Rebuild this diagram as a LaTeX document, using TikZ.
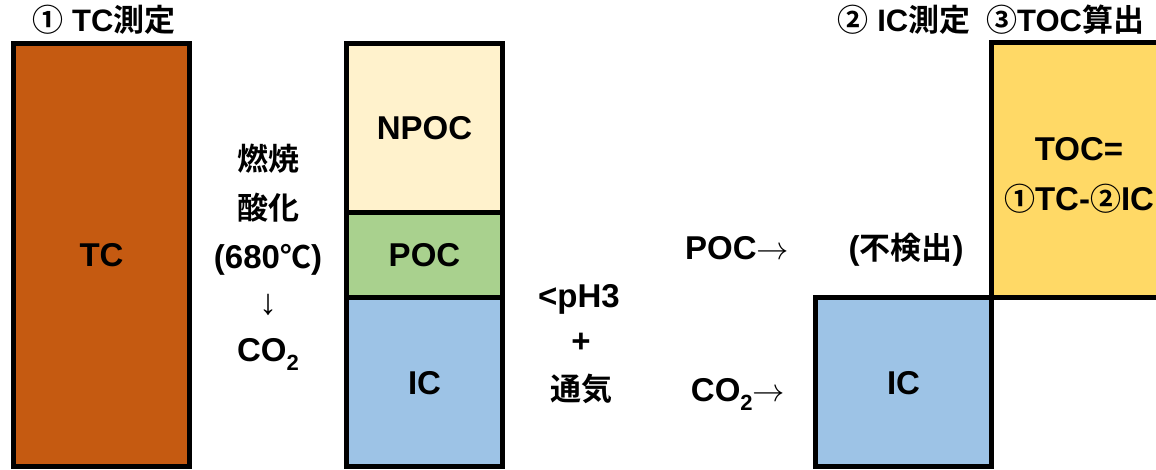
\documentclass[tikz,border=0pt]{standalone}
\usepackage{graphicx}
\usepackage{fontspec}
\setmainfont{Liberation Sans}
\newfontfamily\jp{Noto Sans CJK JP Bold}[BoldFont={Noto Sans CJK JP Bold}]
\definecolor{tcorange}{HTML}{C55A11}
\definecolor{npocfill}{HTML}{FFF2CC}
\definecolor{pocfill}{HTML}{A9D18E}
\definecolor{icfill}{HTML}{9DC3E6}
\definecolor{tocfill}{HTML}{FFD966}
% CJK text inside the larger labels keeps its own size
\newcommand{\jps}{\jp\fontsize{31}{31}\selectfont}
\newcommand{\subtwo}{\raisebox{-0.28em}{\fontsize{22}{22}\selectfont 2}}
\newcommand{\thinright}{\scalebox{1.3}{$\rightarrow$}}
\begin{document}
\begin{tikzpicture}[x=1pt,y=-1pt,
  frame/.style={draw=black,line width=5pt},
  head/.style={font=\bfseries\fontsize{31}{31}\selectfont,inner sep=0pt,anchor=base},
  lbl/.style={font=\bfseries\fontsize{33}{33}\selectfont,inner sep=0pt,anchor=base},
  arr/.style={font=\fontsize{36}{36}\selectfont,inner sep=0pt}]
\useasboundingbox (0,0) rectangle (1156,469);
\clip (0,0) rectangle (1156,469);

% fills
\fill[tcorange] (13.5,43) rectangle (189.5,466.5);
\fill[npocfill] (346.5,43) rectangle (502.5,212.5);
\fill[pocfill] (346.5,212.5) rectangle (502.5,297.5);
\fill[icfill] (346.5,297.5) rectangle (502.5,466.5);
\fill[icfill] (815.5,297.5) rectangle (991,466.5);
\fill[tocfill] (991,42.5) rectangle (1167,297.5);

% outlines
\draw[frame] (13.5,43) rectangle (189.5,466.5);
\draw[frame] (346.5,43) rectangle (502.5,466.5);
\draw[frame] (346.5,212.5) -- (502.5,212.5);
\draw[frame] (346.5,297.5) -- (502.5,297.5);
\draw[frame] (815.5,297.5) rectangle (991,466.5);
\draw[frame] (991,42.5) rectangle (1167,297.5);

% headings
\node[head] (h1) at (104,31) {{\jp ①} TC{\jp 測定}};
\node[head] (h2) at (904,31) {{\jp ②} IC{\jp 測定}};
\node[head,anchor=base west] (h3) at (986,31) {{\jp ③}TOC{\jp 算出}};

% box labels
\node[lbl] (tc) at (101.5,266.5) {TC};
\node[lbl] (npoc) at (424.5,139.5) {NPOC};
\node[lbl] (poc) at (424.5,266.5) {POC};
\node[lbl] (ic) at (424.5,394) {IC};
\node[lbl] (ic2) at (903.5,394) {IC};
\node[lbl] (toc) at (1079,160) {TOC=};
\node[lbl] (toceq) at (1079,210) {{\jps ①}TC-{\jps ②}IC};

% combustion step
\node[lbl] (burn) at (268,170) {\jps 燃焼};
\node[lbl] (oxid) at (268,219) {\jps 酸化};
\node[lbl] (temp) at (268,268) {(680{\jps ℃})};
\node[arr] (down) at (268,305) {↓};
\node[lbl] (co2a) at (268,361) {CO\subtwo};

% acidification step
\node[lbl] (ph) at (579,307.5) {<pH3};
\node[lbl,anchor=center] (plus) at (581,343) {+};
\node[lbl] (air) at (581,400) {\jps 通気};

% outgoing gases
\node[lbl] (pocout) at (737,259.5) {POC\thinright};
\node[lbl] (co2out) at (738,401) {CO\subtwo\thinright};
\node[lbl] (nd) at (906,259) {({\jps 不検出})};
\end{tikzpicture}
\end{document}
